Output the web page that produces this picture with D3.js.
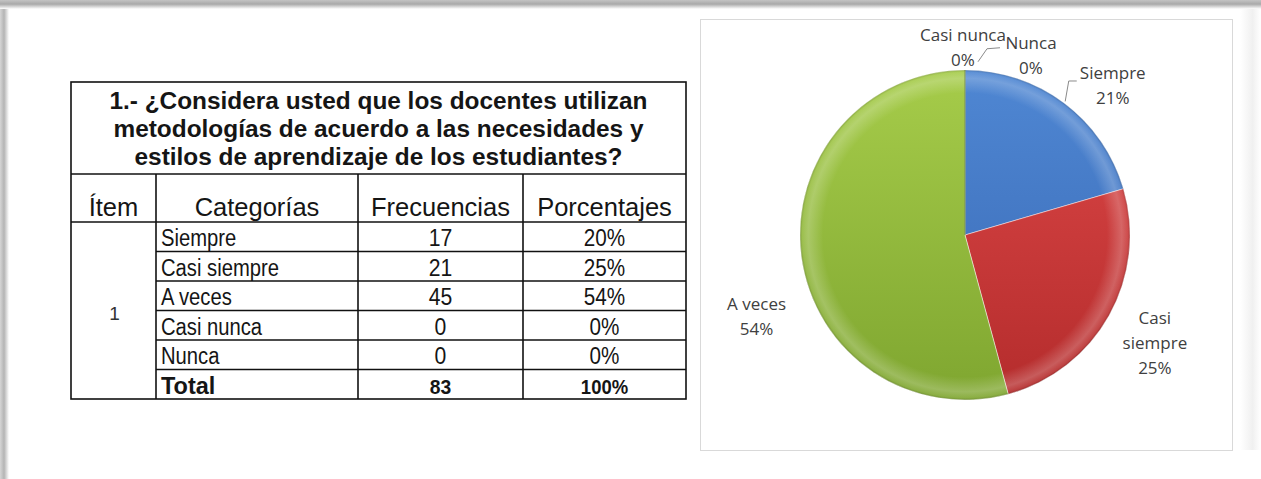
<!DOCTYPE html>
<html><head><meta charset="utf-8">
<script src="https://cdn.jsdelivr.net/npm/d3@7/dist/d3.min.js"></script>
<style>body{margin:0;background:#fff}svg{display:block}</style>
</head><body>
<svg id="c" width="1261" height="479"></svg>
<script>
// ---------------- DATA ----------------
const titleLines = ["1.- ¿Considera usted que los docentes utilizan",
                    "metodologías de acuerdo a las necesidades y",
                    "estilos de aprendizaje de los estudiantes?"];
const headers = ["Ítem", "Categorías", "Frecuencias", "Porcentajes"];
const itemNumber = "1";
const categories = ["Siempre", "Casi siempre", "A veces", "Casi nunca", "Nunca"];
const frequencies = [17, 21, 45, 0, 0];
const percentages = ["20%", "25%", "54%", "0%", "0%"];
const totalRow = ["Total", "83", "100%"];
const pieNameLines = [["Siempre"], ["Casi", "siempre"], ["A veces"], ["Casi nunca"], ["Nunca"]];
const piePercents = ["21%", "25%", "54%", "0%", "0%"];
const pieColors = [["#4f87d3", "#3868b4"], ["#de4848", "#b42c2c"], ["#a6cc4a", "#7fa630"], ["#8064a2", "#5f4a7c"], ["#4bacc6", "#2f8aa3"]];

// ---------------- LAYOUT ----------------
const W = 1261, H = 479;
const colEdges = [71, 156, 358, 523, 686];
const tableTop = 82, titleBottom = 174, headerBottom = 222, tableBottom = 399;
const pieBox = {x: 700, y: 19, w: 532, h: 431};
const pieCx = 965, pieCy = 235, R = 165;
const labelNudge = [[24, 15], [10, 6], [-4, 53], [-2, 18], [66, 26]];

const svg = d3.select("#c");
const defs = svg.append("defs");
svg.append("rect").attr("width", W).attr("height", H).attr("fill", "#fff");

// frame shading
function lin(id, x1, y1, x2, y2, stops) {
  const g = defs.append("linearGradient").attr("id", id)
    .attr("x1", x1).attr("y1", y1).attr("x2", x2).attr("y2", y2);
  stops.forEach(s => g.append("stop").attr("offset", s[0]).attr("stop-color", s[1]).attr("stop-opacity", s[2] == null ? 1 : s[2]));
}
lin("topBand", 0, 0, 0, 1, [[0, "#c4c4c4"], [0.45, "#a9a9a9"], [1, "#ffffff"]]);
lin("leftBand", 0, 0, 1, 0, [[0, "#d6d6d6"], [0.45, "#b4b4b4"], [1, "#ffffff"]]);
lin("rightBand", 0, 0, 1, 0, [[0, "#ffffff"], [0.6, "#f0f0f0"], [1, "#ffffff"]]);
svg.append("rect").attr("x", 0).attr("y", 0).attr("width", 9).attr("height", H).attr("fill", "url(#leftBand)");
svg.append("rect").attr("x", 1240).attr("y", 0).attr("width", 21).attr("height", 450).attr("fill", "url(#rightBand)");
svg.append("rect").attr("x", 0).attr("y", 0).attr("width", W).attr("height", 9).attr("fill", "url(#topBand)");

// ---------------- TABLE ----------------
const FONT = "'Liberation Sans', Arial, sans-serif";
const ink = "#151515";
const tbl = svg.append("g");
const rowKeys = categories.concat([totalRow[0]]);
const yRow = d3.scaleBand().domain(rowKeys).range([headerBottom, tableBottom]);
const colMid = i => (colEdges[i] + colEdges[i + 1]) / 2;
const tableMid = (colEdges[0] + colEdges[colEdges.length - 1]) / 2;

function squeeze(sel, f) {
  sel.each(function () {
    const w = this.getComputedTextLength();
    d3.select(this).attr("textLength", w * f).attr("lengthAdjust", "spacingAndGlyphs");
  });
}

// title
tbl.selectAll("text.title").data(titleLines).join("text").attr("class", "title")
  .attr("x", tableMid).attr("y", (d, i) => 109 + i * 28)
  .attr("text-anchor", "middle").attr("font-family", FONT).attr("font-weight", "bold")
  .attr("font-size", 24.4).attr("fill", ink).text(d => d);

// headers
tbl.selectAll("text.hdr").data(headers).join("text").attr("class", "hdr")
  .attr("x", (d, i) => colMid(i)).attr("y", 216)
  .attr("text-anchor", "middle").attr("font-family", FONT).attr("font-size", 25.5)
  .attr("fill", ink).text(d => d);

// item number
tbl.append("text").attr("x", colMid(0) + 1).attr("y", 320).attr("text-anchor", "middle")
  .attr("font-family", FONT).attr("font-size", 19).attr("fill", "#333").text(itemNumber);

// body rows
const rows = categories.map((c, i) => ({c, f: frequencies[i], p: percentages[i]}));
const gRows = tbl.selectAll("g.row").data(rows).join("g").attr("class", "row");
gRows.append("text").attr("x", colEdges[1] + 5).attr("y", d => yRow(d.c) + 24)
  .attr("font-family", FONT).attr("font-size", 23.5).attr("fill", ink).text(d => d.c)
  .call(squeeze, 0.86);
gRows.append("text").attr("x", colMid(2)).attr("y", d => yRow(d.c) + 24).attr("text-anchor", "middle")
  .attr("font-family", FONT).attr("font-size", 23.5).attr("fill", ink).text(d => d.f)
  .call(squeeze, 0.9);
gRows.append("text").attr("x", colMid(3)).attr("y", d => yRow(d.c) + 24).attr("text-anchor", "middle")
  .attr("font-family", FONT).attr("font-size", 23.5).attr("fill", ink).text(d => d.p)
  .call(squeeze, 0.88);

// total row
const yT = yRow(totalRow[0]) + 24;
tbl.append("text").attr("x", colEdges[1] + 5).attr("y", yT).attr("font-family", FONT)
  .attr("font-weight", "bold").attr("font-size", 23.5).attr("fill", ink).text(totalRow[0]);
tbl.append("text").attr("x", colMid(2)).attr("y", yT).attr("text-anchor", "middle").attr("font-family", FONT)
  .attr("font-weight", "bold").attr("font-size", 21).attr("fill", ink).text(totalRow[1]).call(squeeze, 0.92);
tbl.append("text").attr("x", colMid(3)).attr("y", yT).attr("text-anchor", "middle").attr("font-family", FONT)
  .attr("font-weight", "bold").attr("font-size", 21).attr("fill", ink).text(totalRow[2]).call(squeeze, 0.88);

// grid lines
const lines = tbl.append("g").attr("stroke", "#111").attr("stroke-width", 1.6).attr("fill", "none");
lines.append("rect").attr("x", colEdges[0]).attr("y", tableTop)
  .attr("width", colEdges[4] - colEdges[0]).attr("height", tableBottom - tableTop);
[titleBottom, headerBottom].forEach(yy => lines.append("line")
  .attr("x1", colEdges[0]).attr("x2", colEdges[4]).attr("y1", yy).attr("y2", yy));
rowKeys.slice(1).forEach(k => lines.append("line")
  .attr("x1", colEdges[1]).attr("x2", colEdges[4]).attr("y1", yRow(k)).attr("y2", yRow(k)));
colEdges.slice(1, 4).forEach(xx => lines.append("line")
  .attr("x1", xx).attr("x2", xx).attr("y1", titleBottom).attr("y2", tableBottom));

// ---------------- PIE ----------------
svg.append("rect").attr("x", pieBox.x + 0.5).attr("y", pieBox.y + 0.5)
  .attr("width", pieBox.w).attr("height", pieBox.h)
  .attr("fill", "#fff").attr("stroke", "#d9d9d9").attr("stroke-width", 1);

const pieData = categories.map((c, i) => ({c, v: frequencies[i], i}));
const arcs = d3.pie().sort(null).value(d => d.v)(pieData);
const arc = d3.arc().innerRadius(0).outerRadius(R);
const labelArc = d3.arc().innerRadius(R * 1.25).outerRadius(R * 1.25);

pieColors.forEach((c, i) => lin("slice" + i, 0, 0, 0, 1, [[0, c[0]], [1, c[1]]]));
defs.selectAll("linearGradient").filter(function () { return this.id.startsWith("slice"); })
  .attr("gradientUnits", "userSpaceOnUse").attr("x1", 0).attr("x2", 0).attr("y1", -R).attr("y2", R);

const bevel = defs.append("radialGradient").attr("id", "bevel")
  .attr("gradientUnits", "userSpaceOnUse").attr("cx", 0).attr("cy", 0).attr("r", R);
[[0, "#fff", 0], [0.86, "#fff", 0], [0.95, "#fff", 0.22], [0.985, "#fff", 0.1], [1, "#000", 0.18]]
  .forEach(s => bevel.append("stop").attr("offset", s[0]).attr("stop-color", s[1]).attr("stop-opacity", s[2]));

const gp = svg.append("g").attr("transform", `translate(${pieCx},${pieCy})`);
gp.selectAll("path.slice").data(arcs.filter(a => a.value > 0)).join("path").attr("class", "slice")
  .attr("d", arc).attr("fill", d => `url(#slice${d.data.i})`)
  .attr("stroke", "rgba(255,255,255,0.45)").attr("stroke-width", 1);
gp.append("circle").attr("r", R).attr("fill", "url(#bevel)");
gp.append("line").attr("x1", 0).attr("y1", 0).attr("x2", 0).attr("y2", -R)
  .attr("stroke", "#4f6e22").attr("stroke-width", 0.8);

// labels
const labelFont = "'Open Sans', 'Liberation Sans', sans-serif";
const labelPos = arcs.map((a, i) => {
  const c = labelArc.centroid(a);
  return [pieCx + c[0] + labelNudge[i][0], pieCy + c[1] + labelNudge[i][1]];
});
const gl = svg.append("g").attr("font-family", labelFont).attr("font-size", 17).attr("fill", "#404040");
arcs.forEach((a, i) => {
  const ls = pieNameLines[i].concat([piePercents[i]]);
  const n = ls.length;
  gl.append("text").attr("text-anchor", "middle").attr("dominant-baseline", "central")
    .selectAll("tspan").data(ls).join("tspan")
    .attr("x", labelPos[i][0]).attr("y", (d, k) => labelPos[i][1] + (k - (n - 1) / 2) * 25)
    .text(d => d);
});

// leader lines
const leaderG = svg.append("g").attr("fill", "none").attr("stroke", "#8a8a8a").attr("stroke-width", 1);
// Siempre: from slice edge at its mid angle to the label
(() => {
  const a = arcs[0], m = (a.startAngle + a.endAngle) / 2;
  const s = [pieCx + Math.sin(m) * (R + 2), pieCy - Math.cos(m) * (R + 2)];
  const p = labelPos[0];
  leaderG.append("path").attr("d", d3.line()([s, [p[0] - 44, p[1] - 4], [p[0] - 36, p[1] - 4]]));
})();
// Nunca: from the top of the pie to its label
(() => {
  const p = labelPos[4];
  leaderG.append("path").attr("d", d3.line()([[p[0] - 53, p[1] + 7], [p[0] - 44, p[1] - 6], [p[0] - 31, p[1] - 7]]));
})();
</script>
</body></html>
